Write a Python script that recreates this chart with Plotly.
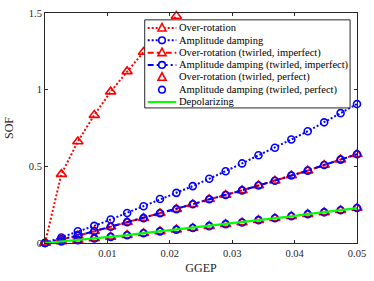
import plotly.graph_objects as go

# ---- data ----
ggep = [i * 0.05 / 19 for i in range(20)]

over_rotation = [0.0, 0.449, 0.662, 0.834, 0.987, 1.119, 1.246, 1.365, 1.480]
amp_damping = [0.0, 0.036, 0.077, 0.112, 0.153, 0.196, 0.240, 0.287, 0.327, 0.371,
               0.419, 0.468, 0.519, 0.572, 0.621, 0.675, 0.729, 0.787, 0.847, 0.906]
twirled_imperfect = [0.0, 0.024, 0.048, 0.077, 0.106, 0.136, 0.162, 0.194, 0.221, 0.253,
                     0.285, 0.313, 0.343, 0.375, 0.406, 0.440, 0.472, 0.509, 0.544, 0.579]
twirled_perfect = [0.0, 0.010, 0.019, 0.030, 0.040, 0.051, 0.064, 0.076, 0.087, 0.098,
                   0.110, 0.123, 0.134, 0.149, 0.161, 0.174, 0.188, 0.200, 0.214, 0.228]
depolarizing = twirled_perfect

RED = "#ff0000"
BLUE = "#0000ff"
GREEN = "#00ff00"
AX = "#262626"
FONT = "Liberation Serif"

series = [
    dict(name="Over-rotation", y=over_rotation, color=RED, dash="2px,2px", symbol="triangle-up-open", line=True),
    dict(name="Amplitude damping", y=amp_damping, color=BLUE, dash="2px,2px", symbol="circle-open", line=True),
    dict(name="Over-rotation (twirled, imperfect)", y=twirled_imperfect, color=RED, dash="6px,3px", symbol="triangle-up-open", line=True),
    dict(name="Amplitude damping (twirled, imperfect)", y=twirled_imperfect, color=BLUE, dash="6px,3px,2px,3px", symbol="circle-open", line=True),
    dict(name="Over-rotation (twirled, perfect)", y=twirled_perfect, color=RED, dash=None, symbol="triangle-up-open", line=False),
    dict(name="Amplitude damping (twirled, perfect)", y=twirled_perfect, color=BLUE, dash=None, symbol="circle-open", line=False),
    dict(name="Depolarizing", y=depolarizing, color=GREEN, dash="solid", symbol=None, line=True),
]

fig = go.Figure()
for s in series:
    tri = s["symbol"] == "triangle-up-open"
    if s["line"] and s["symbol"]:
        mode = "lines+markers"
    elif s["line"]:
        mode = "lines"
    else:
        mode = "markers"
    kw = dict(x=ggep[:len(s["y"])], y=s["y"], name=s["name"], mode=mode,
              showlegend=False, cliponaxis=False)
    if s["line"]:
        kw["line"] = dict(color=s["color"], width=2 if s["symbol"] else 2.2, dash=s["dash"])
    if s["symbol"]:
        kw["marker"] = dict(symbol=s["symbol"], size=9 if tri else 7, color=s["color"],
                            line=dict(color=s["color"], width=1.6))
    fig.add_trace(go.Scatter(**kw))

# ---- manual legend (compact, MATLAB style) ----
L, R, T, B = 41, 357, 8, 243
W, H = R - L, B - T
px = lambda x: (x - L) / W
py = lambda y: (B - y) / H

shapes = [dict(type="rect", xref="paper", yref="paper", x0=px(142), x1=px(350), y0=py(105), y1=py(15),
               fillcolor="white", line=dict(color=AX, width=1), layer="above")]
annotations = []
ys = [23.3, 35.9, 48.5, 61.1, 73.7, 86.3, 98.9]
for s, yc in zip(series, ys):
    if s["line"]:
        shapes.append(dict(type="line", xref="paper", yref="paper", x0=px(145), x1=px(174), y0=py(yc), y1=py(yc),
                           line=dict(color=s["color"], width=2, dash=s["dash"]), layer="above"))
    if s["symbol"] == "circle-open":
        shapes.append(dict(type="circle", xref="paper", yref="paper", xsizemode="pixel", ysizemode="pixel",
                           xanchor=px(159.5), yanchor=py(yc), x0=-3.3, x1=3.3, y0=-3.3, y1=3.3,
                           line=dict(color=s["color"], width=1.6), fillcolor="white", layer="above"))
    elif s["symbol"] == "triangle-up-open":
        shapes.append(dict(type="path", xref="paper", yref="paper", xsizemode="pixel", ysizemode="pixel",
                           xanchor=px(159.5), yanchor=py(yc), path="M-4,-3 L4,-3 L0,4.5 Z",
                           line=dict(color=s["color"], width=1.6), fillcolor="white", layer="above"))
    annotations.append(dict(xref="paper", yref="paper", x=px(175), y=py(yc), xanchor="left", yanchor="middle",
                            text=s["name"], showarrow=False, font=dict(family=FONT, size=10.5, color="black")))

axis_common = dict(showgrid=False, zeroline=False, showline=True, linecolor=AX, linewidth=1,
                   mirror="ticks", ticks="inside", ticklen=3, tickcolor=AX, tickwidth=1,
                   tickfont=dict(family=FONT, size=10.5, color=AX))

fig.update_layout(
    width=374, height=281,
    margin=dict(l=L, r=374 - R, t=T, b=281 - B),
    paper_bgcolor="white", plot_bgcolor="white",
    font=dict(family=FONT),
    xaxis=dict(range=[0, 0.05], tickvals=[0.01, 0.02, 0.03, 0.04, 0.05], ticktext=["0.01", "0.02", "0.03", "0.04", "0.05"],
               title=dict(text="GGEP", font=dict(family=FONT, size=12, color=AX), standoff=6), **axis_common),
    yaxis=dict(range=[0, 1.5], tickvals=[0, 0.5, 1, 1.5], ticktext=["0", "0.5", "1", "1.5"],
               title=dict(text="SOF", font=dict(family=FONT, size=12, color=AX), standoff=12), **axis_common),
    shapes=shapes, annotations=annotations, showlegend=False,
)

fig.write_html("out.html", config={"displayModeBar": False},
               post_script="document.body.style.margin='0px';")
